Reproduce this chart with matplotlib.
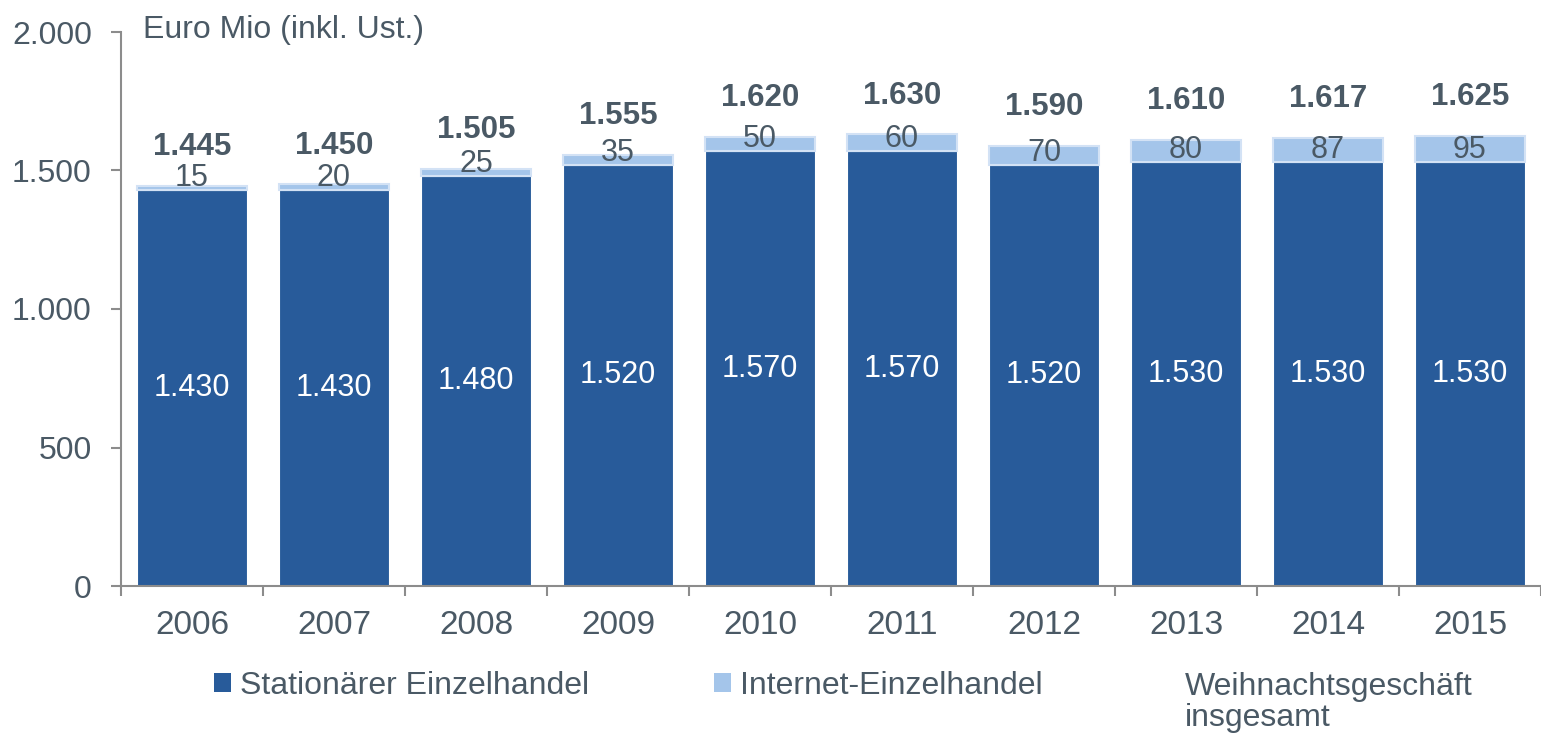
import matplotlib
matplotlib.use("Agg")
import matplotlib.pyplot as plt
from matplotlib.patches import Patch
import numpy as np

plt.rcParams['font.family'] = ['Liberation Sans', 'DejaVu Sans']

years = ['2006', '2007', '2008', '2009', '2010', '2011', '2012', '2013', '2014', '2015']
stationaer = [1430, 1430, 1480, 1520, 1570, 1570, 1520, 1530, 1530, 1530]
internet = [15, 20, 25, 35, 50, 60, 70, 80, 87, 95]
gesamt = [1445, 1450, 1505, 1555, 1620, 1630, 1590, 1610, 1617, 1625]
yticks = [0, 500, 1000, 1500, 2000]

dark = '#285b9a'
light = '#a4c5ea'
txt = '#4a5965'
axcol = '#8c8c8c'


def de(v):
    return f"{v:,}".replace(",", ".")


fig = plt.figure(figsize=(15.41, 7.38), dpi=100)
ax = fig.add_axes([121 / 1541, 1 - 586 / 738, 1 - 121 / 1541, (586 - 32) / 738])

x = np.arange(len(years))
w = 0.78
ax.bar(x, stationaer, w, color=dark, edgecolor='white', linewidth=0.8)
ax.bar(x, internet, w, bottom=stationaer, color=light, edgecolor='#d3e2f5', linewidth=1.5)

for i in range(len(years)):
    ax.text(x[i], stationaer[i] / 2, de(stationaer[i]), ha='center', va='center',
            color='white', fontsize=22)
    ax.text(x[i], stationaer[i] + max(internet[i] / 2, 55), str(internet[i]), ha='center',
            va='center_baseline', color=txt, fontsize=22)
    ax.text(x[i], gesamt[i] + 140, de(gesamt[i]), ha='center', va='center', color=txt,
            fontsize=22.5, fontweight='bold')

ax.set_xlim(-0.5, len(years) - 0.5)
ax.set_ylim(0, 2000)
ax.set_yticks(yticks)
ax.set_yticklabels([de(v) for v in yticks])
ax.set_xticks(x)
ax.set_xticklabels(years)
ax.set_xticks(np.arange(len(years) + 1) - 0.5, minor=True)

for s in ['top', 'right']:
    ax.spines[s].set_visible(False)
for s in ['left', 'bottom']:
    ax.spines[s].set_color(axcol)
    ax.spines[s].set_linewidth(1.5)

ax.tick_params(axis='y', length=7, width=1.5, color=axcol, labelcolor=txt, labelsize=23, pad=14)
ax.tick_params(axis='x', which='major', length=0, labelcolor=txt, labelsize=24, pad=17)
ax.tick_params(axis='x', which='minor', length=7, width=1.5, color=axcol)

fig.text(143 / 1541, 1 - 30 / 738, 'Euro Mio (inkl. Ust.)', ha='left', va='center',
         color=txt, fontsize=23)

handles = [Patch(facecolor=dark), Patch(facecolor=light)]
labels = ['Stationärer Einzelhandel', 'Internet-Einzelhandel']
leg = fig.legend(handles, labels, ncol=2, loc='center left', bbox_to_anchor=(214 / 1541, 1 - 686 / 738),
                 frameon=False, fontsize=23, handlelength=0.52, handleheight=0.52,
                 handletextpad=0.3, columnspacing=3.9, borderpad=0, borderaxespad=0)
for t in leg.get_texts():
    t.set_color(txt)
fig.text(1185 / 1541, 1 - 672 / 738, 'Weihnachtsgeschäft\ninsgesamt', ha='left', va='top',
         color=txt, fontsize=23, linespacing=1.05)

fig.savefig('out.png', dpi=100)
